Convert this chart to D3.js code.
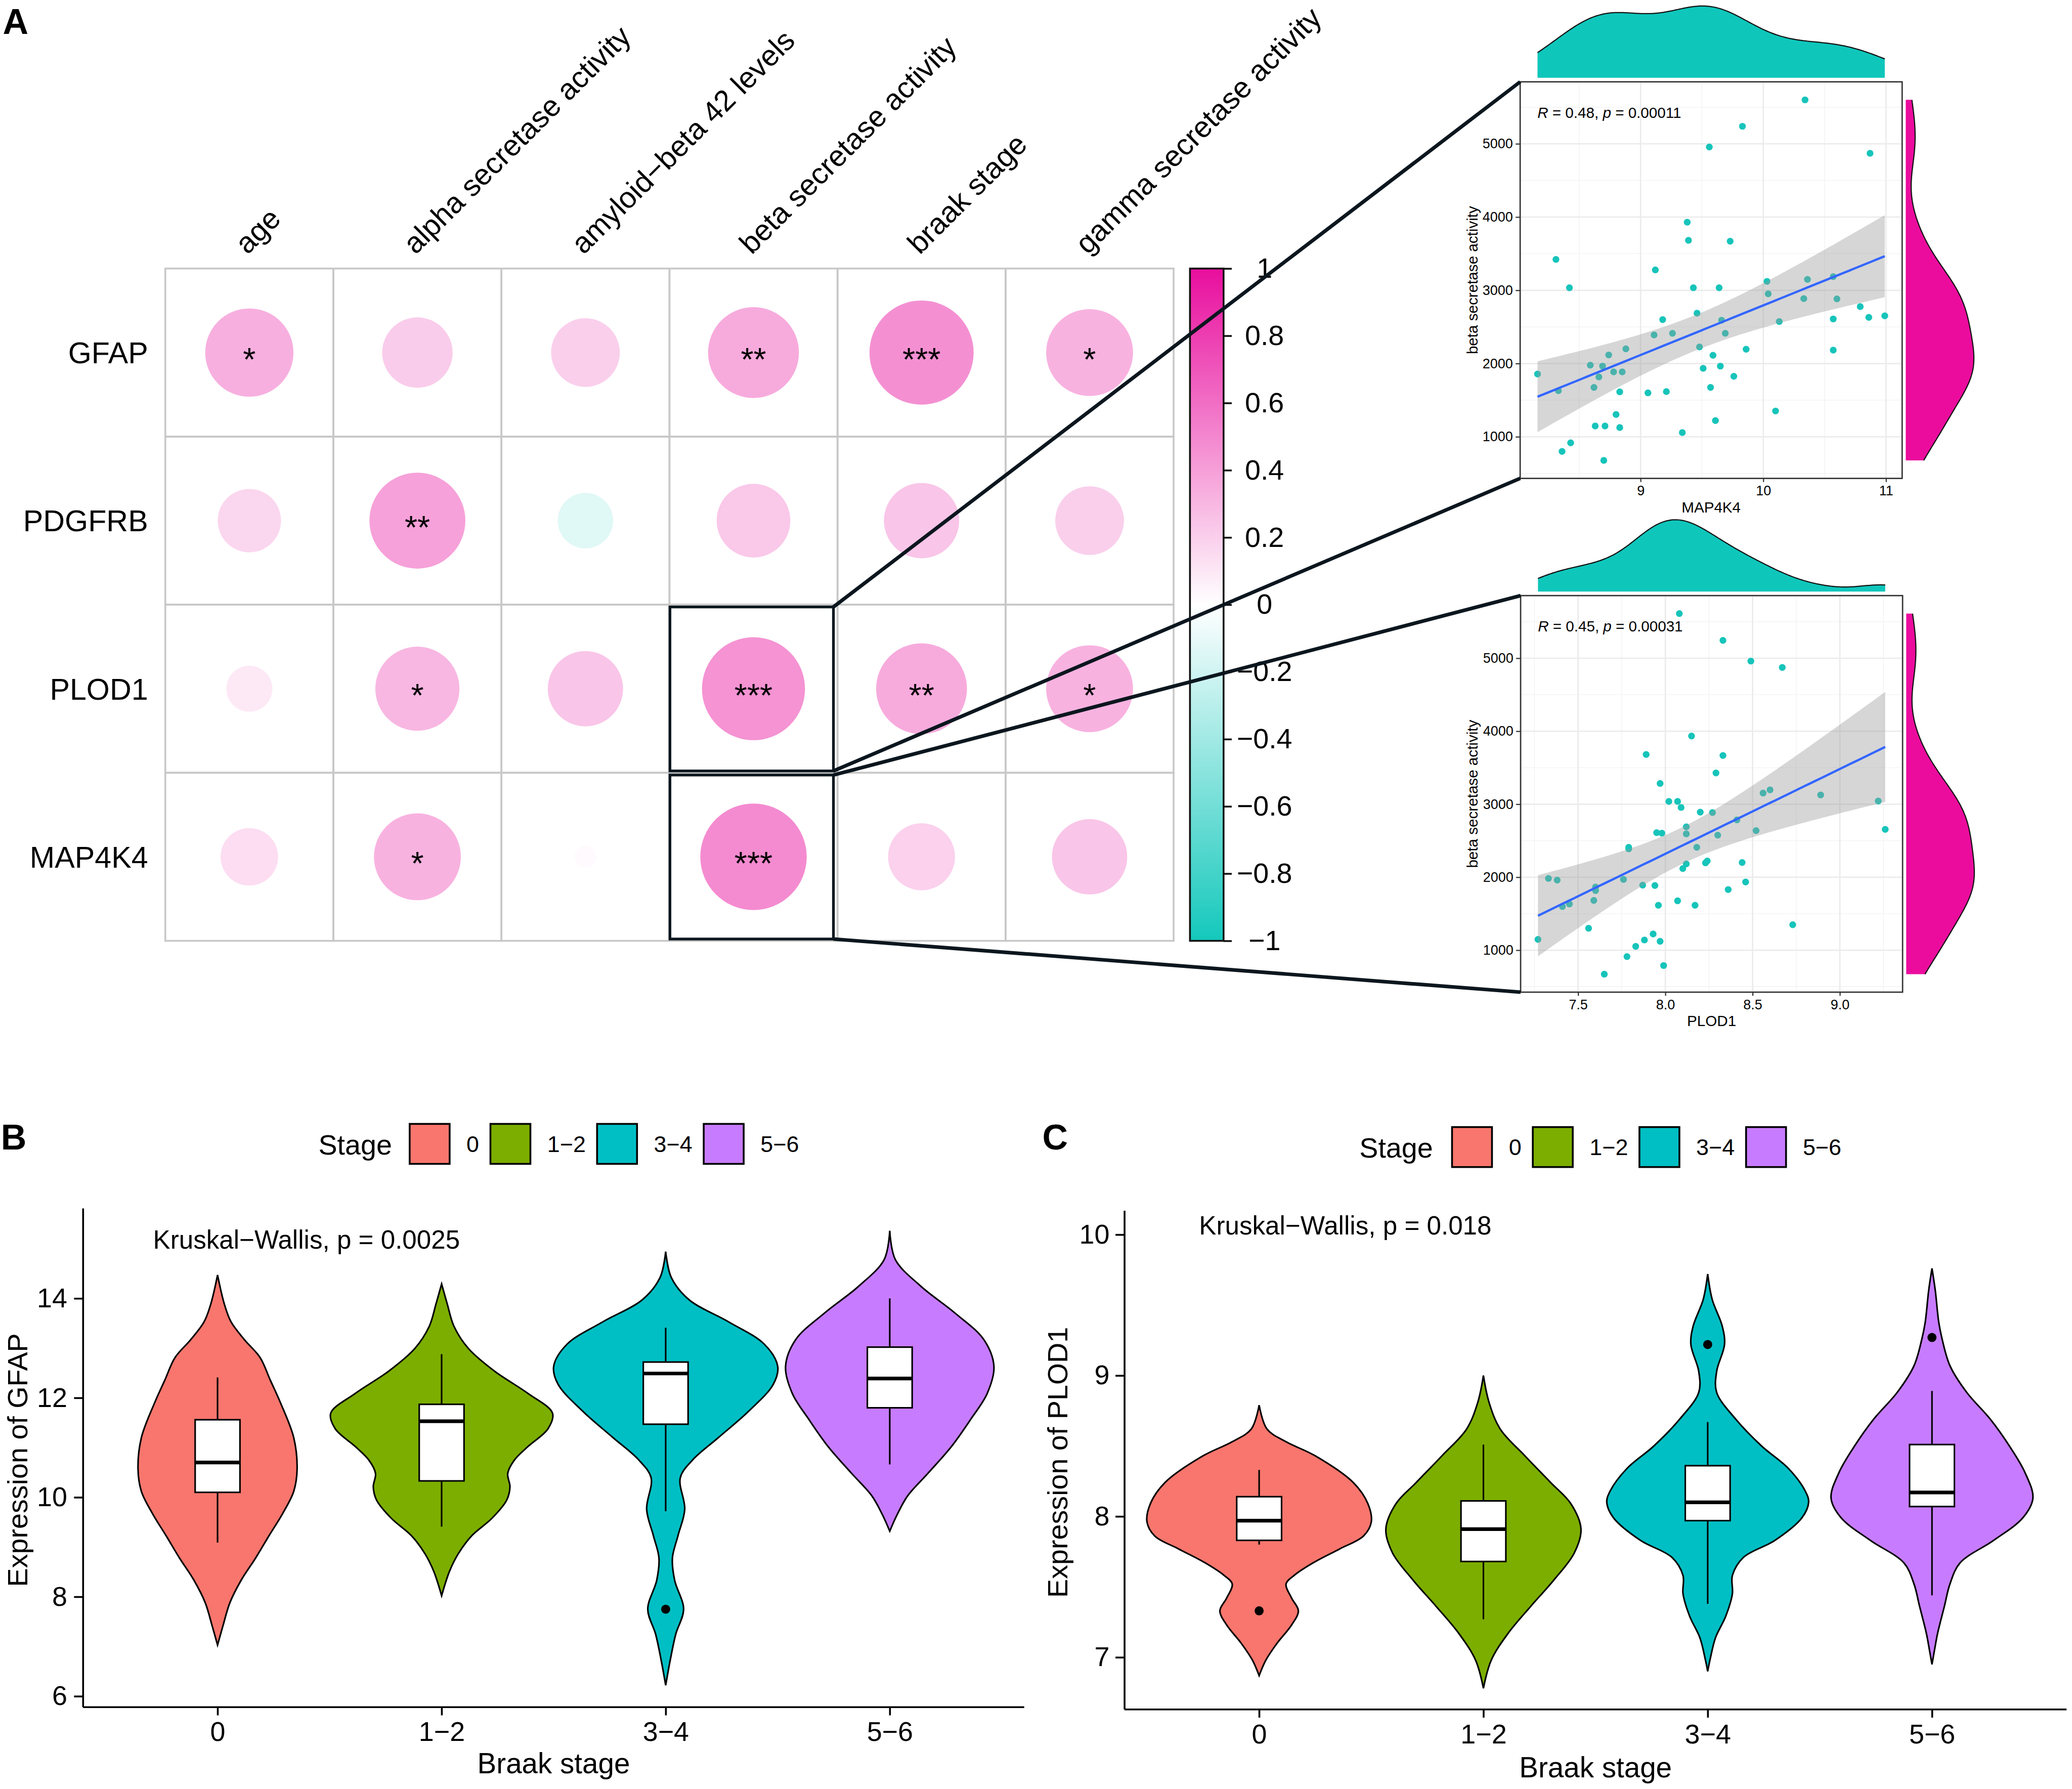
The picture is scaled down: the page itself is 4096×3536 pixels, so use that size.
<!DOCTYPE html>
<html>
<head>
<meta charset="utf-8">
<script src="https://cdn.jsdelivr.net/npm/d3@7"></script>
<style>
  body { margin: 0; background: #fff; }
  svg { display: block; }
  text { font-family: "Liberation Sans", Arial, Helvetica, sans-serif; fill: #000; }
</style>
</head>
<body>
<svg id="fig" width="4096" height="3536" viewBox="0 0 4562 3938"></svg>
<script>
//---- data: correlation panel
var traits = ["age", "alpha secretase activity", "amyloid\u2212beta 42 levels", "beta secretase activity", "braak stage", "gamma secretase activity"];
var genes = ["GFAP", "PDGFRB", "PLOD1", "MAP4K4"];
var corrGFAP   = [0.33, 0.21, 0.20, 0.35, 0.46, 0.32];
var corrPDGFRB = [0.17, 0.39, -0.13, 0.23, 0.24, 0.20];
var corrPLOD1  = [0.09, 0.30, 0.24, 0.45, 0.35, 0.32];
var corrMAP4K4 = [0.14, 0.32, 0.02, 0.48, 0.19, 0.24];
var sigGFAP   = ["*", "", "", "**", "***", "*"];
var sigPDGFRB = ["", "**", "", "", "", ""];
var sigPLOD1  = ["", "*", "", "***", "**", "*"];
var sigMAP4K4 = ["", "*", "", "***", "", ""];
var cbTicks = [-1, -0.8, -0.6, -0.4, -0.2, 0, 0.2, 0.4, 0.6, 0.8, 1];

//---- data: scatter plots (beta secretase activity vs gene)
var map4k4X = [10.34, 9.83, 9.56, 10.87, 9.38, 9.39, 9.73, 8.31, 9.12, 8.42, 9.43, 9.64, 10.03, 10.04, 10.36, 10.57, 10.33, 10.60, 10.79, 10.86,
  10.99, 10.57, 10.13, 9.46, 9.18, 9.66, 9.11, 9.26, 9.69, 9.48, 8.88, 8.74, 9.59, 9.86, 10.57, 8.59, 8.69, 9.65, 9.51, 8.66,
  8.78, 8.85, 9.76, 8.16, 8.33, 8.62, 8.83, 9.06, 9.21, 9.57, 8.80, 8.63, 8.71, 8.83, 10.10, 9.61, 9.34, 8.43, 8.36, 8.70];
var map4k4Y = [5600, 5239, 4957, 4870, 3930, 3683, 3670, 3422, 3278, 3035, 3035, 3035, 3122, 2952, 3148, 3187, 2887, 2883, 2778, 2630,
  2652, 2609, 2574, 2687, 2600, 2591, 2391, 2413, 2413, 2226, 2200, 2117, 2113, 2196, 2183, 1978, 1965, 1965, 1935, 1817,
  1887, 1887, 1826, 1857, 1630, 1674, 1613, 1600, 1617, 1674, 1304, 1148, 1148, 1126, 1352, 1222, 1057, 917, 800, 678];
var plod1X = [8.08, 8.33, 8.49, 8.67, 8.15, 7.89, 8.33, 8.29, 7.97, 8.56, 8.60, 8.89, 9.22, 8.02, 8.07, 8.09, 8.20, 8.27, 8.41, 8.12,
  9.26, 8.52, 7.95, 7.98, 8.12, 8.30, 7.79, 7.79, 8.18, 8.44, 8.23, 8.24, 8.12, 8.10, 7.33, 7.38, 7.76, 8.46, 7.87, 7.94,
  8.36, 7.60, 7.60, 7.59, 7.41, 7.45, 7.96, 8.07, 8.17, 8.73, 7.56, 7.93, 7.88, 7.97, 7.27, 7.83, 7.78, 7.99, 7.65];
var plod1Y = [5611, 5245, 4961, 4873, 3934, 3681, 3668, 3428, 3284, 3153, 3197, 3127, 3044, 3039, 3039, 2956, 2891, 2886, 2786, 2690,
  2655, 2638, 2611, 2603, 2594, 2576, 2410, 2389, 2410, 2201, 2197, 2223, 2183, 2118, 1983, 1961, 1969, 1934, 1891, 1886,
  1830, 1865, 1817, 1681, 1598, 1633, 1616, 1677, 1616, 1349, 1301, 1223, 1140, 1122, 1148, 1052, 913, 790, 672];
var scatterYTicks = [1000, 2000, 3000, 4000, 5000];
var map4k4Ticks = [9, 10, 11];
var plod1Ticks = [7.5, 8.0, 8.5, 9.0];

//---- data: violins, [value, relative half width]
var stages = ["0", "1\u22122", "3\u22124", "5\u22126"];
var gfapV0  = [[7.03,0],[7.43,.05],[7.88,.11],[8.33,.21],[8.78,.34],[9.23,.46],[9.67,.58],[10.12,.68],[10.57,.71],[11.20,.68],[11.91,.56],[12.36,.47],[12.81,.38],[13.17,.24],[13.53,.12],[13.89,.06],[14.47,0]];
var gfapV12 = [[8.02,0],[8.51,.07],[8.87,.15],[9.23,.27],[9.58,.45],[9.94,.58],[10.21,.61],[10.48,.59],[10.75,.65],[11.02,.77],[11.38,.95],[11.69,.99],[12.09,.77],[12.54,.47],[12.99,.24],[13.44,.11],[13.89,.05],[14.29,0]];
var gfapV34 = [[6.22,0],[6.72,.04],[7.25,.09],[7.75,.16],[8.33,.08],[8.78,.06],[9.23,.11],[9.76,.17],[10.39,.13],[10.75,.24],[11.20,.47],[11.73,.74],[12.27,.96],[12.63,1.0],[13.08,.88],[13.53,.56],[13.97,.21],[14.42,.05],[14.94,0]];
var gfapV56 = [[9.32,0],[9.67,.07],[10.03,.16],[10.48,.34],[11.02,.55],[11.56,.72],[12.09,.87],[12.63,.93],[13.17,.84],[13.71,.58],[14.24,.28],[14.78,.05],[15.36,0]];
var gfapLo  = [9.09, 9.41, 9.72, 10.66];
var gfapQ1  = [10.10, 10.33, 11.47, 11.80];
var gfapMed = [10.70, 11.53, 12.49, 12.39];
var gfapQ3  = [11.56, 11.87, 12.72, 13.02];
var gfapHi  = [12.41, 12.88, 13.41, 14.00];
var gfapOut = [[2, 7.75]];

var plodV0  = [[6.87,0],[6.98,.06],[7.10,.16],[7.23,.29],[7.33,.35],[7.42,.29],[7.52,.24],[7.58,.31],[7.67,.48],[7.77,.72],[7.86,.93],[7.96,1.0],[8.09,.97],[8.24,.84],[8.43,.50],[8.53,.24],[8.62,.07],[8.79,0]];
var plodV12 = [[6.78,0],[6.98,.07],[7.17,.22],[7.36,.42],[7.55,.63],[7.74,.81],[7.91,.87],[8.09,.78],[8.24,.60],[8.43,.37],[8.62,.15],[8.81,.05],[9.00,0]];
var plodV34 = [[6.90,0],[6.98,.02],[7.14,.07],[7.29,.16],[7.45,.22],[7.58,.22],[7.71,.32],[7.83,.60],[7.99,.84],[8.10,.90],[8.18,.87],[8.34,.72],[8.50,.48],[8.69,.25],[8.88,.08],[9.03,.08],[9.22,.15],[9.35,.13],[9.54,.04],[9.72,0]];
var plodV56 = [[6.95,0],[7.04,.02],[7.17,.05],[7.36,.11],[7.52,.16],[7.67,.25],[7.83,.55],[7.99,.81],[8.13,.90],[8.31,.83],[8.50,.69],[8.69,.52],[8.88,.31],[9.07,.16],[9.26,.09],[9.38,.06],[9.60,.03],[9.76,0]];
var plodLo  = [7.80, 7.27, 7.38, 7.44];
var plodQ1  = [7.83, 7.68, 7.97, 8.07];
var plodMed = [7.97, 7.91, 8.10, 8.17];
var plodQ3  = [8.14, 8.11, 8.36, 8.51];
var plodHi  = [8.33, 8.51, 8.67, 8.89];
var plodOut = [[0, 7.33], [2, 9.22], [3, 9.27]];
var gfapTicks = [6, 8, 10, 12, 14];
var plodTicks = [7, 8, 9, 10];

//---- styling
var FONT = "'Liberation Sans', Arial, Helvetica, sans-serif";
var stageColors = ["#F8766D", "#7CAE00", "#00BFC4", "#C77CFF"];
var corrColor = d3.scaleLinear().domain([-1, 0, 1]).range(["#14C8BC", "#ffffff", "#E80E9E"]);
var svg = d3.select("#fig");

// panel tags
function tag(label, x, y) {
  svg.append("text").attr("x", x).attr("y", y)
    .attr("font-size", 78).attr("font-weight", "bold").text(label);
}
tag("A", 6, 74);
tag("B", 2, 2530);
tag("C", 2295, 2530);

//================ A: correlation circles ================
var hx = d3.scaleBand().domain(traits).range([364, 2584]);
var hy = d3.scaleBand().domain(genes).range([591, 2071]);
var corrRows = [corrGFAP, corrPDGFRB, corrPLOD1, corrMAP4K4];
var sigRows = [sigGFAP, sigPDGFRB, sigPLOD1, sigMAP4K4];
var cells = [];
genes.forEach(function(g, i) {
  traits.forEach(function(t, j) {
    cells.push({ gene: g, trait: t, r: corrRows[i][j], sig: sigRows[i][j] });
  });
});
var rMax = hx.bandwidth() * 0.457;
var hm = svg.append("g");
hm.selectAll(".cell").data(cells).enter().append("rect")
  .attr("x", function(d) { return hx(d.trait); })
  .attr("y", function(d) { return hy(d.gene); })
  .attr("width", hx.bandwidth()).attr("height", hy.bandwidth())
  .attr("fill", "none").attr("stroke", "#C8C8C8").attr("stroke-width", 4);
hm.selectAll(".dot").data(cells).enter().append("circle")
  .attr("cx", function(d) { return hx(d.trait) + hx.bandwidth() / 2; })
  .attr("cy", function(d) { return hy(d.gene) + hy.bandwidth() / 2; })
  .attr("r", function(d) { return rMax * Math.sqrt(Math.abs(d.r)); })
  .attr("fill", function(d) { return corrColor(d.r); });
hm.selectAll(".sig").data(cells).enter().append("text")
  .attr("x", function(d) { return hx(d.trait) + hx.bandwidth() / 2; })
  .attr("y", function(d) { return hy(d.gene) + hy.bandwidth() / 2 + 40; })
  .attr("text-anchor", "middle").attr("font-size", 72)
  .text(function(d) { return d.sig; });
// column labels
hm.selectAll(".clab").data(traits).enter().append("text")
  .attr("transform", function(t) { return "translate(" + (hx(t) + hx.bandwidth() / 2 - 4) + ",562) rotate(-45)"; })
  .attr("font-size", 65).text(function(t) { return t; });
// row labels
hm.selectAll(".rlab").data(genes).enter().append("text")
  .attr("x", 326).attr("y", function(g) { return hy(g) + hy.bandwidth() / 2; })
  .attr("dy", "0.36em").attr("text-anchor", "end").attr("font-size", 66)
  .text(function(g) { return g; });

// colour bar
var cbY = d3.scaleLinear().domain([-1, 1]).range([2071, 591]);
var grad = svg.append("defs").append("linearGradient").attr("id", "cbGrad")
  .attr("x1", 0).attr("y1", 1).attr("x2", 0).attr("y2", 0);
grad.selectAll("stop").data(cbTicks).enter().append("stop")
  .attr("offset", function(d) { return (d + 1) / 2; })
  .attr("stop-color", function(d) { return corrColor(d); });
svg.append("rect").attr("x", 2620).attr("y", cbY(1)).attr("width", 74).attr("height", cbY(-1) - cbY(1))
  .attr("fill", "url(#cbGrad)").attr("stroke", "#111").attr("stroke-width", 4);
var cbAxis = svg.append("g").attr("transform", "translate(2694,0)")
  .call(d3.axisRight(cbY).tickValues(cbTicks).tickSize(18)
    .tickFormat(function(d) { return Math.abs(d) < 1e-9 ? "0" : d3.format(".1~f")(d); }));
cbAxis.select(".domain").remove();
cbAxis.attr("font-family", FONT).attr("font-size", 62);
cbAxis.selectAll("line").attr("stroke", "#111").attr("stroke-width", 4);
cbAxis.selectAll("text").attr("x", 90).attr("text-anchor", "middle").attr("fill", "#000");

//================ A: scatter plots with marginals ================
function kde(vals, n) {
  var s = vals.slice().sort(d3.ascending);
  var iqr = d3.quantileSorted(s, 0.75) - d3.quantileSorted(s, 0.25);
  var bw = 0.9 * Math.min(d3.deviation(s), iqr / 1.34) * Math.pow(s.length, -0.2);
  var lo = s[0], hi = s[s.length - 1];
  return d3.range(n).map(function(i) {
    var g = lo + (hi - lo) * i / (n - 1);
    var dens = d3.mean(s, function(v) { var z = (g - v) / bw; return Math.exp(-0.5 * z * z); }) / (bw * Math.sqrt(2 * Math.PI));
    return [g, dens];
  });
}

function linFit(xs, ys) {
  var n = xs.length, mx = d3.mean(xs), my = d3.mean(ys);
  var sxx = d3.sum(xs, function(v) { return (v - mx) * (v - mx); });
  var sxy = d3.sum(xs, function(v, i) { return (v - mx) * (ys[i] - my); });
  var b = sxy / sxx, a = my - b * mx;
  var sse = d3.sum(xs, function(v, i) { var e = ys[i] - a - b * v; return e * e; });
  var s = Math.sqrt(sse / (n - 2));
  var tCrit = 2.002;
  var ext = d3.extent(xs);
  return d3.range(80).map(function(i) {
    var x0 = ext[0] + (ext[1] - ext[0]) * i / 79;
    var fit = a + b * x0;
    var se = s * Math.sqrt(1 / n + (x0 - mx) * (x0 - mx) / sxx);
    return { x: x0, y: fit, lo: fit - tCrit * se, hi: fit + tCrit * se };
  });
}

function drawScatter(px, py, xs, ys, xTicks, xFmt, xTitle, rTxt, pTxt) {
  var pw = 841, ph = 873;
  var xe = d3.extent(xs), ye = d3.extent(ys);
  var xp = (xe[1] - xe[0]) * 0.05, yp = (ye[1] - ye[0]) * 0.05;
  var x = d3.scaleLinear().domain([xe[0] - xp, xe[1] + xp]).range([px, px + pw]);
  var y = d3.scaleLinear().domain([ye[0] - yp, ye[1] + yp]).range([py + ph, py]);
  var g = svg.append("g");

  // grid (theme_bw)
  var xStep = xTicks[1] - xTicks[0], yStep = scatterYTicks[1] - scatterYTicks[0];
  var inX = function(v) { return v > x.domain()[0] && v < x.domain()[1]; };
  var inY = function(v) { return v > y.domain()[0] && v < y.domain()[1]; };
  var xMinor = d3.range(xTicks[0] - xStep / 2, xTicks[xTicks.length - 1] + xStep, xStep).filter(inX);
  var yMinor = d3.range(scatterYTicks[0] - yStep / 2, scatterYTicks[scatterYTicks.length - 1] + yStep, yStep).filter(inY);
  g.selectAll(".xmin").data(xMinor).enter().append("line")
    .attr("x1", x).attr("x2", x).attr("y1", py).attr("y2", py + ph)
    .attr("stroke", "#F2F2F2").attr("stroke-width", 1.5);
  g.selectAll(".ymin").data(yMinor).enter().append("line")
    .attr("y1", y).attr("y2", y).attr("x1", px).attr("x2", px + pw)
    .attr("stroke", "#F2F2F2").attr("stroke-width", 1.5);
  g.selectAll(".xmaj").data(xTicks.filter(inX)).enter().append("line")
    .attr("x1", x).attr("x2", x).attr("y1", py).attr("y2", py + ph)
    .attr("stroke", "#EBEBEB").attr("stroke-width", 3);
  g.selectAll(".ymaj").data(scatterYTicks.filter(inY)).enter().append("line")
    .attr("y1", y).attr("y2", y).attr("x1", px).attr("x2", px + pw)
    .attr("stroke", "#EBEBEB").attr("stroke-width", 3);

  // points, then smooth with band on top
  g.selectAll(".pt").data(xs).enter().append("circle")
    .attr("cx", function(d) { return x(d); })
    .attr("cy", function(d, i) { return y(ys[i]); })
    .attr("r", 7.5).attr("fill", "#17C4BA");
  var fit = linFit(xs, ys);
  g.append("path").datum(fit)
    .attr("d", d3.area().x(function(d) { return x(d.x); }).y0(function(d) { return y(d.lo); }).y1(function(d) { return y(d.hi); }))
    .attr("fill", "#999999").attr("fill-opacity", 0.4);
  g.append("path").datum(fit)
    .attr("d", d3.line().x(function(d) { return x(d.x); }).y(function(d) { return y(d.y); }))
    .attr("fill", "none").attr("stroke", "#3366FF").attr("stroke-width", 5);
  g.append("rect").attr("x", px).attr("y", py).attr("width", pw).attr("height", ph)
    .attr("fill", "none").attr("stroke", "#333").attr("stroke-width", 3);

  // axes
  var ax = g.append("g").attr("transform", "translate(" + px + ",0)")
    .call(d3.axisLeft(y).tickValues(scatterYTicks).tickFormat(d3.format("d")).tickSize(10).tickPadding(6));
  var bx = g.append("g").attr("transform", "translate(0," + (py + ph) + ")")
    .call(d3.axisBottom(x).tickValues(xTicks).tickFormat(d3.format(xFmt)).tickSize(8).tickPadding(8));
  [ax, bx].forEach(function(a) {
    a.select(".domain").remove();
    a.attr("font-family", FONT).attr("font-size", 30);
    a.selectAll("line").attr("stroke", "#333").attr("stroke-width", 2.5);
    a.selectAll("text").attr("fill", "#4D4D4D");
  });
  g.append("text").attr("x", px + pw / 2).attr("y", py + ph + 75)
    .attr("text-anchor", "middle").attr("font-size", 33).text(xTitle);
  g.append("text").attr("transform", "translate(3253," + (py + ph / 2) + ") rotate(-90)")
    .attr("text-anchor", "middle").attr("font-size", 33).text("beta secretase activity");
  var rt = g.append("text").attr("x", px + 38).attr("y", py + 79).attr("font-size", 33);
  rt.append("tspan").attr("font-style", "italic").text("R");
  rt.append("tspan").text(" = " + rTxt + ", ");
  rt.append("tspan").attr("font-style", "italic").text("p");
  rt.append("tspan").text(" = " + pTxt);

  // marginal densities
  var dx = kde(xs, 256);
  var hTop = d3.scaleLinear().domain([0, d3.max(dx, function(d) { return d[1]; })]).range([py - 9, py - 167]);
  g.append("path").datum(dx)
    .attr("d", d3.area().x(function(d) { return x(d[0]); }).y0(py - 9).y1(function(d) { return hTop(d[1]); }))
    .attr("fill", "#0FC6BB");
  g.append("path").datum(dx)
    .attr("d", d3.line().x(function(d) { return x(d[0]); }).y(function(d) { return hTop(d[1]); }))
    .attr("fill", "none").attr("stroke", "#111").attr("stroke-width", 2.5);
  var dy = kde(ys, 256);
  var wRight = d3.scaleLinear().domain([0, d3.max(dy, function(d) { return d[1]; })]).range([px + pw + 8, px + pw + 158]);
  g.append("path").datum(dy)
    .attr("d", d3.area().y(function(d) { return y(d[0]); }).x0(px + pw + 8).x1(function(d) { return wRight(d[1]); }))
    .attr("fill", "#EB0C9E");
  g.append("path").datum(dy)
    .attr("d", d3.line().y(function(d) { return y(d[0]); }).x(function(d) { return wRight(d[1]); }))
    .attr("fill", "none").attr("stroke", "#111").attr("stroke-width", 2.5);
  return { x0: px, y0: py, x1: px + pw, y1: py + ph };
}

var sc1 = drawScatter(3347, 180, map4k4X, map4k4Y, map4k4Ticks, "d", "MAP4K4", "0.48", "0.00011");
var sc2 = drawScatter(3348, 1311, plod1X, plod1Y, plod1Ticks, ".1f", "PLOD1", "0.45", "0.00031");

// highlight boxes and connectors
var hl = [{ gene: "PLOD1", panel: sc1 }, { gene: "MAP4K4", panel: sc2 }];
hl.forEach(function(h) {
  var bx0 = hx("beta secretase activity") + 1, by0 = hy(h.gene) + 5;
  var bw = hx.bandwidth() - 10, bh = hy.bandwidth() - 9;
  svg.append("rect").attr("x", bx0).attr("y", by0).attr("width", bw).attr("height", bh)
    .attr("fill", "none").attr("stroke", "#0B161E").attr("stroke-width", 6);
  svg.append("line").attr("x1", bx0 + bw).attr("y1", by0).attr("x2", h.panel.x0).attr("y2", h.panel.y0)
    .attr("stroke", "#0B161E").attr("stroke-width", 8);
  svg.append("line").attr("x1", bx0 + bw).attr("y1", by0 + bh).attr("x2", h.panel.x0).attr("y2", h.panel.y1)
    .attr("stroke", "#0B161E").attr("stroke-width", 8);
});

//================ B, C: violins ================
function drawViolins(o) {
  var x = d3.scalePoint().domain(stages).range(o.xr).padding(0.6);
  var y = d3.scaleLinear().domain(o.dom).range(o.yr);
  var half = x.step() / 2, boxW = x.step() * 0.2;
  var g = svg.append("g");
  o.profiles.forEach(function(prof, i) {
    var cx = x(stages[i]);
    g.append("path").datum(prof)
      .attr("d", d3.area().curve(d3.curveCatmullRom.alpha(0.5))
        .y(function(d) { return y(d[0]); })
        .x0(function(d) { return cx - d[1] * half; })
        .x1(function(d) { return cx + d[1] * half; }))
      .attr("fill", stageColors[i]).attr("stroke", "#000").attr("stroke-width", 3.5);
    g.append("line").attr("x1", cx).attr("x2", cx).attr("y1", y(o.hi[i])).attr("y2", y(o.lo[i]))
      .attr("stroke", "#000").attr("stroke-width", 3.5);
    g.append("rect").attr("x", cx - boxW / 2).attr("y", y(o.q3[i])).attr("width", boxW)
      .attr("height", y(o.q1[i]) - y(o.q3[i]))
      .attr("fill", "#fff").attr("stroke", "#000").attr("stroke-width", 3.5);
    g.append("line").attr("x1", cx - boxW / 2).attr("x2", cx + boxW / 2)
      .attr("y1", y(o.med[i])).attr("y2", y(o.med[i]))
      .attr("stroke", "#000").attr("stroke-width", 8);
  });
  g.selectAll(".out").data(o.out).enter().append("circle")
    .attr("cx", function(d) { return x(stages[d[0]]); })
    .attr("cy", function(d) { return y(d[1]); })
    .attr("r", 10).attr("fill", "#000");

  var ya = g.append("g").attr("transform", "translate(" + o.xr[0] + ",0)")
    .call(d3.axisLeft(y).tickValues(o.ticks).tickFormat(d3.format("d")).tickSize(20).tickSizeOuter(0).tickPadding(o.yPad));
  var xa = g.append("g").attr("transform", "translate(0," + o.yr[0] + ")")
    .call(d3.axisBottom(x).tickSize(18).tickSizeOuter(0).tickPadding(14));
  [ya, xa].forEach(function(a) {
    a.attr("font-family", FONT).attr("font-size", 60);
    a.selectAll("line, path").attr("stroke", "#000").attr("stroke-width", 4);
    a.selectAll("text").attr("fill", "#000");
  });
  ya.select(".domain").attr("d", "M0," + o.yr[0] + "V" + o.yr[1]);
  xa.select(".domain").attr("d", "M" + o.xr[0] + ",0H" + o.xr[1]);

  g.append("text").attr("x", (o.xr[0] + o.xr[1]) / 2).attr("y", o.xTitleY)
    .attr("text-anchor", "middle").attr("font-size", 63).text("Braak stage");
  g.append("text").attr("transform", "translate(" + o.yTitleX + "," + ((o.yr[0] + o.yr[1]) / 2 + 5) + ") rotate(-90)")
    .attr("text-anchor", "middle").attr("font-size", 62).text(o.yTitle);
  g.append("text").attr("x", o.kwX).attr("y", o.kwY).attr("font-size", 57).text(o.kw);

  // legend
  g.append("text").attr("x", o.legX).attr("y", o.legY + 67).attr("font-size", 62).text("Stage");
  var cur = o.legBoxX;
  stages.forEach(function(s, i) {
    g.append("rect").attr("x", cur).attr("y", o.legY).attr("width", 88).attr("height", 88)
      .attr("fill", stageColors[i]).attr("stroke", "#000").attr("stroke-width", 4);
    var t = g.append("text").attr("x", cur + 88 + 37).attr("y", o.legY + 62).attr("font-size", 50).text(s);
    cur = cur + 88 + 37 + t.node().getComputedTextLength() + 25;
  });
}

drawViolins({
  xr: [183, 2255], yr: [3758, 2660], dom: [5.78, 15.81], ticks: gfapTicks, yPad: 15,
  profiles: [gfapV0, gfapV12, gfapV34, gfapV56],
  lo: gfapLo, q1: gfapQ1, med: gfapMed, q3: gfapQ3, hi: gfapHi, out: gfapOut,
  yTitle: "Expression of GFAP", yTitleX: 60, xTitleY: 3904,
  kw: "Kruskal\u2212Wallis, p = 0.0025", kwX: 337, kwY: 2749,
  legX: 701, legBoxX: 902, legY: 2474
});
drawViolins({
  xr: [2476, 4550], yr: [3763, 2665], dom: [6.63, 10.17], ticks: plodTicks, yPad: 13,
  profiles: [plodV0, plodV12, plodV34, plodV56],
  lo: plodLo, q1: plodQ1, med: plodMed, q3: plodQ3, hi: plodHi, out: plodOut,
  yTitle: "Expression of PLOD1", yTitleX: 2350, xTitleY: 3913,
  kw: "Kruskal\u2212Wallis, p = 0.018", kwX: 2640, kwY: 2717,
  legX: 2993, legBoxX: 3197, legY: 2481
});
</script>
</body>
</html>
